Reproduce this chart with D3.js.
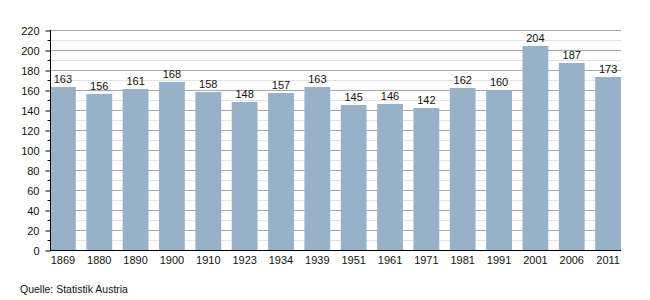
<!DOCTYPE html>
<html>
<head>
<meta charset="utf-8">
<script src="https://cdn.jsdelivr.net/npm/d3@7"></script>
<style>
  body { margin: 0; background: #fff; }
  svg { display: block; font-family: "Liberation Sans", Arial, sans-serif; }
</style>
</head>
<body>
<svg id="chart" width="650" height="300"></svg>
<script>
const years = ["1869", "1880", "1890", "1900", "1910", "1923", "1934", "1939", "1951", "1961", "1971", "1981", "1991", "2001", "2006", "2011"];
const values = [163, 156, 161, 168, 158, 148, 157, 163, 145, 146, 142, 162, 160, 204, 187, 173];
const majorTicks = [0, 20, 40, 60, 80, 100, 120, 140, 160, 180, 200, 220];
const minorTicks = [10, 30, 50, 70, 90, 110, 130, 150, 170, 190, 210];
const source = "Quelle: Statistik Austria";

const plotLeft = 50, plotRight = 621, plotTop = 30, plotBottom = 250;
const svg = d3.select("#chart");

const x = d3.scaleBand()
    .domain(years)
    .range([plotLeft, plotRight])
    .paddingInner(0.29)
    .paddingOuter(0);

const y = d3.scaleLinear()
    .domain([0, 220])
    .range([plotBottom, plotTop]);

// gridlines
svg.append("g").selectAll("line")
    .data(minorTicks)
    .join("line")
    .attr("x1", plotLeft).attr("x2", plotRight)
    .attr("y1", d => y(d) + 0.5).attr("y2", d => y(d) + 0.5)
    .attr("stroke", "#e3e3e3");
svg.append("g").selectAll("line")
    .data(majorTicks.filter(d => d > 0))
    .join("line")
    .attr("x1", plotLeft).attr("x2", plotRight)
    .attr("y1", d => y(d) + 0.5).attr("y2", d => y(d) + 0.5)
    .attr("stroke", "#a8a8a8");

// bars
svg.append("g").selectAll("rect")
    .data(values)
    .join("rect")
    .attr("x", (d, i) => x(years[i]))
    .attr("y", d => y(d))
    .attr("width", x.bandwidth())
    .attr("height", d => y(0) - y(d))
    .attr("fill", "#97b1cb");

// value labels
svg.append("g").selectAll("text")
    .data(values)
    .join("text")
    .attr("x", (d, i) => x(years[i]) + x.bandwidth() / 2)
    .attr("y", d => y(d) - 4)
    .attr("text-anchor", "middle")
    .attr("font-size", 11)
    .attr("fill", "#111")
    .text(d => d);

// y axis
const yAxis = svg.append("g")
    .attr("transform", `translate(${plotLeft + 0.5},0.5)`)
    .call(d3.axisLeft(y).tickValues(majorTicks).tickSize(5).tickPadding(6));
yAxis.select(".domain").remove();
yAxis.selectAll("text").attr("font-size", 11).attr("fill", "#111").attr("font-family", "Liberation Sans, Arial, sans-serif");
yAxis.selectAll("line").attr("stroke", "#000");
svg.append("g")
    .attr("transform", `translate(${plotLeft + 0.5},0.5)`)
    .selectAll("line")
    .data(minorTicks)
    .join("line")
    .attr("x1", -3).attr("x2", 0)
    .attr("y1", d => y(d)).attr("y2", d => y(d))
    .attr("stroke", "#000");
svg.append("line")
    .attr("x1", plotLeft + 0.5).attr("x2", plotLeft + 0.5)
    .attr("y1", plotTop).attr("y2", plotBottom + 1)
    .attr("stroke", "#000");

// x axis
const xAxis = svg.append("g")
    .attr("transform", `translate(0,${plotBottom + 0.5})`)
    .call(d3.axisBottom(x).tickSize(0).tickPadding(6));
xAxis.select(".domain").remove();
xAxis.selectAll("text").attr("font-size", 11).attr("fill", "#111").attr("font-family", "Liberation Sans, Arial, sans-serif");
svg.append("line")
    .attr("x1", plotLeft).attr("x2", plotRight)
    .attr("y1", plotBottom + 0.5).attr("y2", plotBottom + 0.5)
    .attr("stroke", "#000");

svg.append("text")
    .attr("x", 20).attr("y", 293)
    .attr("font-size", 10.5)
    .attr("fill", "#111")
    .text(source);
</script>
</body>
</html>
